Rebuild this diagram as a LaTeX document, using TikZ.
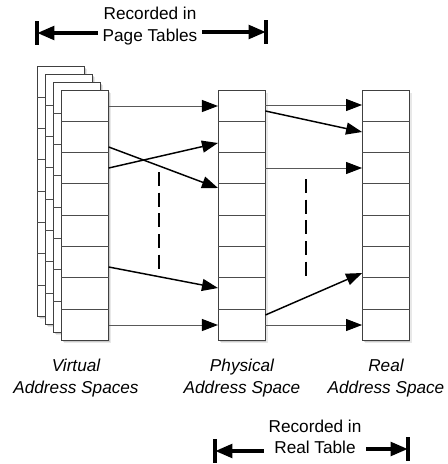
\documentclass[tikz,border=0pt]{standalone}
\usepackage{fontspec}
\setmainfont{Liberation Sans}
\usetikzlibrary{arrows.meta,shadows,calc}

\begin{document}
\begin{tikzpicture}
            [
            x=0.75pt,y=-0.75pt,
            caption/.style={align=center,font={\fontsize{12.9}{16}\selectfont}},
            spacename/.style={align=center,font={\fontsize{12.9}{16}\selectfont\itshape}},
            addrspace/.style={draw=black!75,fill=white,line width=.6pt,inner sep=0pt,
                minimum width=35pt,minimum height=187.5pt,
                drop shadow={shadow xshift=2pt,shadow yshift=-2.5pt,opacity=.18},
                drop shadow={shadow xshift=1pt,shadow yshift=-1.3pt,opacity=.3}},
            slot/.style={draw=black!70,line width=.6pt},
            map/.style={line width=1.1pt,-{Triangle[length=12pt,width=9pt,color=black]}},
            flat/.style={map,line width=.7pt,black!65},
            gap/.style={line width=2pt,dash pattern=on 10.5pt off 5pt},
            span/.style={line width=3pt,-{Triangle[length=13pt,width=10pt]}},
            stop/.style={line width=3.5pt},
            ]
            \useasboundingbox (0,0) rectangle (448,464);

            % Virtual address spaces (stack, back to front)
            \foreach \k in {3,2,1,0} {
                \node[addrspace] (virt\k) at (85-8*\k,215-8*\k) {};
                \foreach \r in {1,...,7}
                    \draw[slot] ($(virt\k.north west)!\r/8!(virt\k.south west)$)
                        -- ($(virt\k.north east)!\r/8!(virt\k.south east)$);
            }

            % Physical and real address spaces
            \node[addrspace] (phys) at (241.7,215) {};
            \node[addrspace] (real) at (385.8,215) {};
            \foreach \s in {phys,real}
                \foreach \r in {1,...,7}
                    \draw[slot] ($(\s.north west)!\r/8!(\s.south west)$)
                        -- ($(\s.north east)!\r/8!(\s.south east)$);

            % Virtual to physical
            \draw[flat] (virt0.east |- 0,106) -- (phys.west |- 0,106);
            \draw[map] (virt0.east |- 0,168) -- (phys.west |- 0,143);
            \draw[map] (virt0.east |- 0,147) -- (phys.west |- 0,188);
            \draw[map] (virt0.east |- 0,267) -- (phys.west |- 0,288);
            \draw[flat] (virt0.east |- 0,325) -- (phys.west |- 0,325);
            \draw[gap] (159,172) -- (159,270);

            % Physical to real
            \draw[flat] (phys.east |- 0,105) -- (real.west |- 0,105);
            \draw[map] (phys.east |- 0,111) -- (real.west |- 0,132);
            \draw[flat] (phys.east |- 0,168) -- (real.west |- 0,168);
            \draw[map] (phys.east |- 0,315) -- (real.west |- 0,273);
            \draw[flat] (phys.east |- 0,325) -- (real.west |- 0,325);
            \draw[gap] (306,179) -- (306,277);

            % Names
            \node[spacename] (virtname) at (76,378) {Virtual\\Address Spaces};
            \node[spacename] (physname) at (242,378) {Physical\\Address Space};
            \node[spacename] (realname) at (386,378) {Real\\Address Space};

            % Page tables
            \node[caption] (pagetab) at (150,26) {Recorded in\\Page Tables};
            \coordinate (pagetabL) at (37,33);
            \coordinate (pagetabR) at (266,32);
            \draw[span] (pagetab.west |- pagetabL) -- (pagetabL);
            \draw[span] (pagetab.east |- pagetabR) -- (pagetabR);
            \draw[stop] ([yshift=9pt]pagetabL) -- ([yshift=-9pt]pagetabL);
            \draw[stop] ([yshift=9pt]pagetabR) -- ([yshift=-9pt]pagetabR);

            % Real table
            \node[caption] (realtab) at (315,437) {Recorded in\\Real Table};
            \coordinate (realtabL) at (215,451);
            \coordinate (realtabR) at (408,449);
            \draw[span] (realtab.west |- realtabL) -- (realtabL);
            \draw[span] (realtab.east |- realtabR) -- (realtabR);
            \draw[stop] ([yshift=9pt]realtabL) -- ([yshift=-9pt]realtabL);
            \draw[stop] ([yshift=9pt]realtabR) -- ([yshift=-9pt]realtabR);

        \end{tikzpicture}
\end{document}
